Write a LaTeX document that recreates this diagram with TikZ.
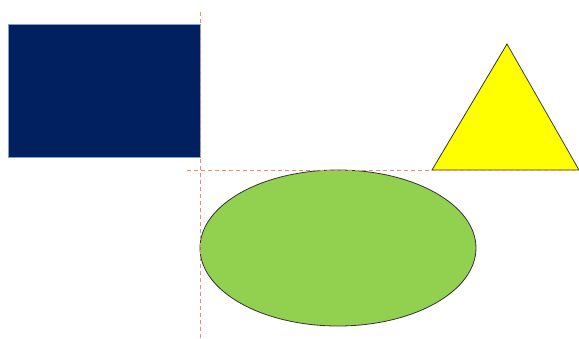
\documentclass[tikz,border=0pt]{standalone}
\definecolor{navy}{HTML}{002060}
\definecolor{leaf}{HTML}{92D050}
\definecolor{sun}{HTML}{FFFF00}
\definecolor{guide}{HTML}{EA8A74}
\definecolor{rectedge}{HTML}{7F9FCF}
\tikzset{guideline/.style={draw=guide, dash pattern=on 4pt off 3pt, line width=0.9pt},
shapeedge/.style={draw=black!80, line width=0.8pt}}
\begin{document}
\begin{tikzpicture}[x=1pt,y=-1pt]
\useasboundingbox (0,0) rectangle (579,338);
\fill[navy] (8,24) rectangle (200,157);
\draw[rectedge, line width=0.6pt] (8,24) rectangle (200,157);
\fill[leaf, shapeedge] (338,248) ellipse [x radius=138, y radius=78];
\coordinate (apex) at (507,44);
\coordinate (bl) at (432,170);
\coordinate (br) at (579,170);
\fill[sun, shapeedge] (apex) -- (br) -- (bl) -- cycle;
\coordinate (vt) at (200,12);
\coordinate (vb) at (200,338);
\coordinate (hl) at (187,170);
\coordinate (hr) at (579,170);
\draw[guideline] (vt) -- (vb);
\draw[guideline] (hl) -- (hr);
\end{tikzpicture}
\end{document}
